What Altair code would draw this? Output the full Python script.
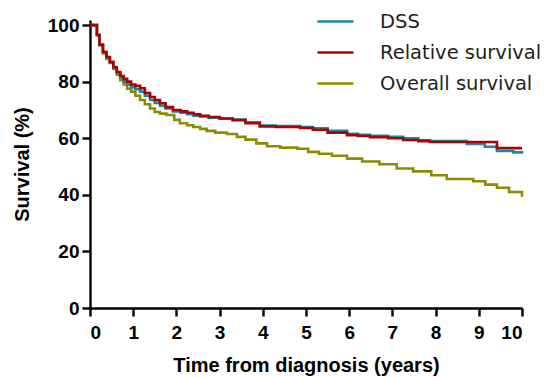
import altair as alt
import pandas as pd

series_names = ["DSS", "Relative survival", "Overall survival"]
series_colors = ["#1a8aa5", "#ad0000", "#8c8c00"]

dss_t = [0, 0.16, 0.22, 0.3, 0.38, 0.46, 0.54, 0.62, 0.7, 0.78, 0.86, 0.95, 1.05, 1.16, 1.27, 1.39, 1.5, 1.62, 1.75, 1.92, 2.1, 2.25, 2.4, 2.55, 2.75, 3.0, 3.3, 3.6, 3.93, 4.3, 4.86, 5.16, 5.5, 5.95, 6.2, 6.48, 6.9, 7.25, 7.6, 7.87, 8.72, 9.14, 9.42, 9.8, 10]
dss_v = [100, 96.5, 93, 90.5, 88.5, 86.8, 85, 83.2, 81.5, 80, 79, 78, 77.3, 76.5, 75, 73.5, 72.5, 71.5, 70.5, 69.5, 69, 68.5, 68, 67.7, 67.3, 67, 66.6, 65.6, 64.5, 64.3, 64, 63.5, 62.6, 61.6, 61.2, 60.9, 60.5, 60, 59.3, 59, 58, 57, 55.5, 55, 54.5]

rel_t = [0, 0.16, 0.22, 0.3, 0.38, 0.46, 0.54, 0.62, 0.7, 0.78, 0.86, 0.95, 1.05, 1.16, 1.27, 1.39, 1.5, 1.62, 1.75, 1.92, 2.1, 2.25, 2.4, 2.55, 2.75, 3.0, 3.3, 3.6, 3.93, 4.3, 4.86, 5.16, 5.5, 5.95, 6.2, 6.48, 6.9, 7.25, 7.6, 7.87, 9.42, 10]
rel_v = [100, 96.5, 93, 90.5, 88.7, 87, 85.2, 83.4, 82, 81, 80, 79, 78.5, 77.7, 76, 74.6, 73.5, 72.4, 71, 70, 69.5, 69, 68.5, 67.9, 67.5, 67, 66.4, 65.3, 64.2, 64, 63.6, 63, 62, 61.1, 60.8, 60.4, 60, 59.4, 59, 58.7, 56.5, 56.5]

os_t = [0, 0.16, 0.22, 0.3, 0.38, 0.46, 0.54, 0.62, 0.7, 0.78, 0.86, 0.95, 1.05, 1.16, 1.27, 1.39, 1.5, 1.62, 1.77, 1.95, 2.08, 2.25, 2.39, 2.55, 2.7, 2.9, 3.17, 3.4, 3.6, 3.85, 4.1, 4.4, 4.8, 5.05, 5.3, 5.6, 5.95, 6.3, 6.7, 7.1, 7.48, 7.9, 8.26, 8.87, 9.15, 9.42, 9.7, 10]
os_v = [100, 96.5, 93, 90, 88, 86.6, 84.5, 82.5, 80.5, 79, 77.5, 76.5, 75, 73.5, 72, 70.5, 69.3, 68.7, 68.2, 66.5, 65.3, 64.6, 64, 63.3, 62.6, 62, 61.5, 60.5, 59.5, 58.2, 57.2, 56.7, 56.3, 55.2, 54.5, 53.8, 52.8, 51.8, 50.8, 49.3, 48.3, 46.9, 45.6, 44.8, 43.6, 42.5, 41, 39.3]

x_ticks = list(range(0, 11))
y_ticks = [0, 20, 40, 60, 80, 100]

def frame(name, t, v):
    return pd.DataFrame({"time": t, "surv": v, "series": name})

color_scale = alt.Scale(domain=series_names, range=series_colors)

def layer(df):
    enc_color = alt.Color(
        "series:N",
        scale=color_scale,
        legend=alt.Legend(
            title=None,
            orient="none",
            legendX=226,
            legendY=-18,
            symbolType="M-1,0H1",
            symbolSize=1296,
            symbolStrokeWidth=2.6,
            labelFont="DejaVu Sans",
            labelFontSize=19.5,
            labelColor="#231f20",
            labelOffset=25,
            labelLimit=400,
            rowPadding=2,
            values=series_names,
        ),
    )
    return alt.Chart(df).mark_line(interpolate="step-after", strokeWidth=2.6).encode(
        x=alt.X("time:Q", scale=alt.Scale(domain=[0, 10], nice=False, zero=False),
                axis=alt.Axis(values=x_ticks, title="Time from diagnosis (years)", format="d")),
        y=alt.Y("surv:Q", scale=alt.Scale(domain=[0, 101.8], nice=False),
                axis=alt.Axis(values=y_ticks, title="Survival (%)", format="d")),
        color=enc_color,
    )

chart = alt.layer(
    layer(frame("Overall survival", os_t, os_v)),
    layer(frame("DSS", dss_t, dss_v)),
    layer(frame("Relative survival", rel_t, rel_v)),
).properties(
    width=432, height=288,
    autosize=alt.AutoSizeParams(type="none"),
    padding={"left": 90, "top": 20, "right": 36, "bottom": 69},
).configure_view(stroke=None).configure_axis(
    grid=False,
    domainColor="black", domainWidth=2.4,
    tickColor="black", tickWidth=2.4, tickSize=8,
    labelFont="Liberation Sans", labelFontWeight="bold", labelFontSize=19, labelColor="black",
    labelPadding=3,
    titleFont="Liberation Sans", titleFontWeight="bold", titleFontSize=20, titleColor="black",
).configure_axisY(titlePadding=15).configure_axisX(titlePadding=13, labelPadding=7)

chart.save("out.html", embed_options={"renderer": "svg", "actions": False})
